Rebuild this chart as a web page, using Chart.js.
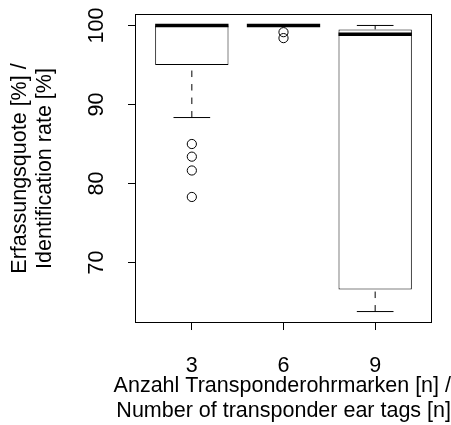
<!DOCTYPE html>
<html>
<head>
<meta charset="utf-8">
<script src="https://cdn.jsdelivr.net/npm/chart.js@4/dist/chart.umd.min.js"></script>
<style>
  body { margin: 0; background: #fff; }
  #wrap { width: 451px; height: 425px; position: relative; }
</style>
</head>
<body>
<div id="wrap"><canvas id="boxChart"></canvas></div>
<script>
// data
const categories = ['3', '6', '9'];
const lowWhisker = [88.35, 100, 63.8];
const q1 = [95.0, 100, 66.6];
const medians = [100, 100, 98.9];
const q3 = [100, 100, 99.5];
const highWhisker = [100, 100, 100];
const outliers = [[85.0, 83.4, 81.65, 78.3], [99.15, 98.4], []];
const yTicks = [70, 80, 90, 100];

const boxHalf = 0.4;   // R boxwex 0.8
const capHalf = 0.2;   // staplewex 0.5
const fontFam = '"Liberation Sans", Arial, Helvetica, sans-serif';
const fs = 21.5;

// build segment lists, broken with null y
let whiskerPts = [], capPts = [], medianPts = [], outlierPts = [];
categories.forEach((c, i) => {
    const x = i + 1;
    whiskerPts.push({x: x, y: lowWhisker[i]}, {x: x, y: q1[i]}, {x: x, y: null});
    whiskerPts.push({x: x, y: highWhisker[i]}, {x: x, y: q3[i]}, {x: x, y: null});
    capPts.push({x: x - capHalf, y: lowWhisker[i]}, {x: x + capHalf, y: lowWhisker[i]}, {x: x, y: null});
    capPts.push({x: x - capHalf, y: highWhisker[i]}, {x: x + capHalf, y: highWhisker[i]}, {x: x, y: null});
    medianPts.push({x: x - boxHalf, y: medians[i]}, {x: x + boxHalf, y: medians[i]}, {x: x, y: null});
    outliers[i].forEach(v => outlierPts.push({x: x, y: v}));
});

const frameBox = {
    id: 'frameBox',
    afterDraw(chart) {
        const a = chart.chartArea, ctx = chart.ctx;
        ctx.save();
        ctx.strokeStyle = '#000';
        ctx.lineWidth = 1;
        ctx.strokeRect(Math.round(a.left) + 0.5, Math.round(a.top) + 0.5,
            Math.round(a.right - a.left) - 1, Math.round(a.bottom - a.top) - 1);
        ctx.restore();
    }
};

const myChart = new Chart(document.getElementById('boxChart'), {
    type: 'scatter',
    data: {
        datasets: [{
            type: 'bar',
            data: categories.map((c, i) => ({x: i + 1, y: [q1[i], q3[i]]})),
            backgroundColor: '#fff',
            borderColor: '#000',
            borderWidth: 1,
            borderSkipped: false,
            barPercentage: 1,
            categoryPercentage: 0.8,
            order: 5
        }, {
            type: 'line',
            data: whiskerPts,
            borderColor: '#000',
            borderWidth: 1,
            borderDash: [6.5, 7],
            pointRadius: 0,
            spanGaps: false,
            order: 4
        }, {
            type: 'line',
            data: capPts,
            borderColor: '#000',
            borderWidth: 1,
            pointRadius: 0,
            spanGaps: false,
            order: 3
        }, {
            type: 'line',
            data: medianPts,
            borderColor: '#000',
            borderWidth: 3.5,
            borderCapStyle: 'butt',
            pointRadius: 0,
            spanGaps: false,
            order: 2
        }, {
            type: 'scatter',
            data: outlierPts,
            pointStyle: 'circle',
            pointRadius: 4.6,
            borderColor: '#000',
            borderWidth: 1,
            backgroundColor: 'rgba(0,0,0,0)',
            order: 1
        }]
    },
    options: {
        responsive: true,
        maintainAspectRatio: false,
        animation: false,
        events: [],
        layout: { padding: { top: 14, right: 0, left: 0, bottom: 0 } },
        plugins: {
            legend: { display: false },
            tooltip: { enabled: false },
            // x axis title as chart title so it is not squeezed to the plot width
            title: {
                display: true,
                position: 'bottom',
                align: 'end',
                text: ['Anzahl Transponderohrmarken [n] /', 'Number of transponder ear tags [n]'],
                color: '#000',
                font: { family: fontFam, size: fs, weight: 'normal', lineHeight: 1.16 },
                padding: { top: 0, bottom: 1.5 }
            }
        },
        scales: {
            x: {
                type: 'linear',
                min: 0.38,
                max: 3.62,
                offset: false,
                afterBuildTicks: s => { s.ticks = categories.map((c, i) => ({value: i + 1})); },
                afterFit: s => { s.height = 50.6; s.paddingLeft = 0; s.paddingRight = 0; },
                ticks: {
                    color: '#000',
                    padding: 23,
                    maxRotation: 0,
                    font: { family: fontFam, size: fs },
                    callback: v => categories[v - 1]
                },
                grid: { offset: false, drawOnChartArea: false, drawTicks: true, tickLength: 7, color: '#000' },
                border: { display: false }
            },
            y: {
                type: 'linear',
                min: 62.35,
                max: 101.45,
                afterBuildTicks: s => { s.ticks = yTicks.map(v => ({value: v})); },
                afterFit: s => { s.width = 135; s.paddingTop = 0; s.paddingBottom = 0; },
                ticks: {
                    color: '#000',
                    padding: 13,
                    minRotation: 90,
                    maxRotation: 90,
                    crossAlign: 'center',
                    font: { family: fontFam, size: fs }
                },
                grid: { drawOnChartArea: false, drawTicks: true, tickLength: 7, color: '#000' },
                border: { display: false },
                title: {
                    display: true,
                    text: ['Erfassungsquote [%] /', 'Identification rate [%]'],
                    color: '#000',
                    font: { family: fontFam, size: fs, lineHeight: 1.16 },
                    padding: { top: 8, bottom: 0 }
                }
            },
            yRight: {
                type: 'linear',
                position: 'right',
                display: true,
                ticks: { display: false },
                grid: { display: false },
                border: { display: false },
                afterFit: s => { s.width = 19; s.paddingTop = 0; s.paddingBottom = 0; }
            }
        }
    },
    plugins: [frameBox]
});
</script>
</body>
</html>
